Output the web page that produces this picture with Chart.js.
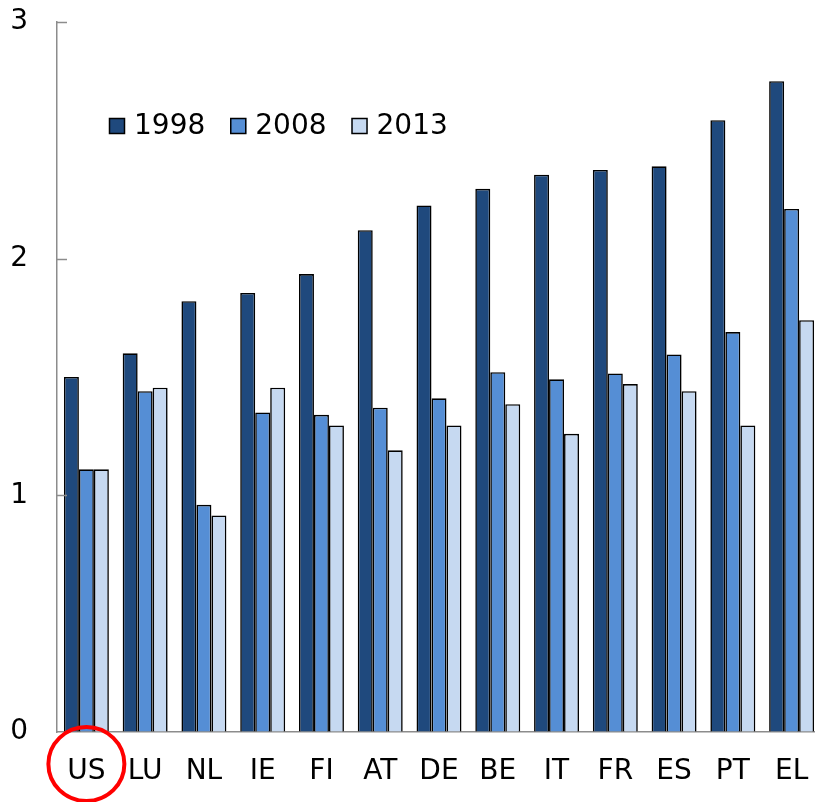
<!DOCTYPE html>
<html>
<head>
<meta charset="utf-8">
<script src="https://cdn.jsdelivr.net/npm/chart.js@4/dist/chart.umd.min.js"></script>
<style>
  html, body { margin: 0; padding: 0; background: #fff; overflow: hidden; width: 815px; height: 802px; }
  #wrap { position: relative; width: 822px; height: 802px; }
</style>
</head>
<body>
<div id="wrap"><canvas id="c" width="822" height="802"></canvas></div>
<script>
const categories = ['US','LU','NL','IE','FI','AT','DE','BE','IT','FR','ES','PT','EL'];
const seriesNames = ['1998','2008','2013'];
const values1998 = [1.50, 1.60, 1.82, 1.855, 1.935, 2.12, 2.225, 2.295, 2.355, 2.375, 2.39, 2.585, 2.75];
const values2008 = [1.11, 1.44, 0.96, 1.35, 1.34, 1.37, 1.41, 1.52, 1.49, 1.515, 1.595, 1.69, 2.21];
const values2013 = [1.11, 1.455, 0.915, 1.455, 1.295, 1.19, 1.295, 1.385, 1.26, 1.47, 1.44, 1.295, 1.74];
const yTicks = [0, 1, 2, 3];
const highlighted = 'US';

const colors = ['#1F497D', '#558ED5', '#C6D9F1'];
const FONT = "'DejaVu Sans', Verdana, sans-serif";

const legendPlugin = {
  id: 'customLegend',
  afterDraw(chart) {
    const ctx = chart.ctx;
    ctx.save();
    ctx.font = '28px ' + FONT;
    ctx.textBaseline = 'middle';
    ctx.textAlign = 'left';
    let x = 109;
    const y = 126;
    chart.data.datasets.forEach((ds, i) => {
      ctx.fillStyle = ds.backgroundColor;
      ctx.fillRect(x, y - 8, 16, 16);
      ctx.strokeStyle = '#000';
      ctx.lineWidth = 1.5;
      ctx.strokeRect(x + 0.5, y - 7.5, 15, 15);
      ctx.fillStyle = '#000';
      ctx.fillText(ds.label, x + 25, y + 1);
      const w = ctx.measureText(ds.label).width;
      x += 25 + w + 25;
    });
    ctx.restore();
  }
};

const axisDecor = {
  id: 'axisDecor',
  afterDraw(chart) {
    const ctx = chart.ctx;
    const ys = chart.scales.y;
    const xs = chart.scales.x;
    ctx.save();
    ctx.strokeStyle = '#8c8c8c';
    ctx.lineWidth = 1.5;
    yTicks.forEach(v => {
      if (v === 0) return;
      const py = Math.round(ys.getPixelForValue(v)) + 0.5;
      ctx.beginPath();
      ctx.moveTo(ys.right, py);
      ctx.lineTo(ys.right + 10, py);
      ctx.stroke();
    });
    const idx = categories.indexOf(highlighted);
    if (idx >= 0) {
      const cx = xs.getPixelForValue(idx);
      ctx.strokeStyle = '#ff0000';
      ctx.lineWidth = 4;
      ctx.beginPath();
      ctx.ellipse(cx, 764, 38, 37, 0, 0, Math.PI * 2);
      ctx.stroke();
    }
    ctx.restore();
  }
};

new Chart(document.getElementById('c'), {
  type: 'bar',
  data: {
    labels: categories,
    datasets: [
      { label: seriesNames[0], data: values1998, backgroundColor: colors[0] },
      { label: seriesNames[1], data: values2008, backgroundColor: colors[1] },
      { label: seriesNames[2], data: values2013, backgroundColor: colors[2] }
    ].map(d => Object.assign(d, { borderColor: '#000', borderWidth: 1.6, categoryPercentage: 0.765, barPercentage: 1.0 }))
  },
  options: {
    responsive: false,
    animation: false,
    devicePixelRatio: 1,
    layout: { padding: { top: 22, right: 1, bottom: 0, left: 0 } },
    plugins: { legend: { display: false }, tooltip: { enabled: false } },
    scales: {
      x: {
        grid: { display: true, drawOnChartArea: false, drawTicks: true, tickLength: 23, color: 'rgba(0,0,0,0)' },
        border: { display: true, color: '#8c8c8c', width: 1.5 },
        ticks: { color: '#000', font: { family: FONT, size: 28 }, padding: 0, maxRotation: 0, autoSkip: false },
        afterFit(s) { s.height = 70; }
      },
      y: {
        min: 0, max: 3,
        grid: { display: true, drawOnChartArea: false, drawTicks: true, tickLength: 29, color: 'rgba(0,0,0,0)' },
        border: { display: true, color: '#8c8c8c', width: 1.5 },
        ticks: { color: '#000', font: { family: FONT, size: 28 }, padding: 0, stepSize: 1,
          callback: (v) => yTicks.includes(v) ? String(v) : '' },
        afterFit(s) { s.width = 57; }
      }
    }
  },
  plugins: [legendPlugin, axisDecor]
});
</script>
</body>
</html>
